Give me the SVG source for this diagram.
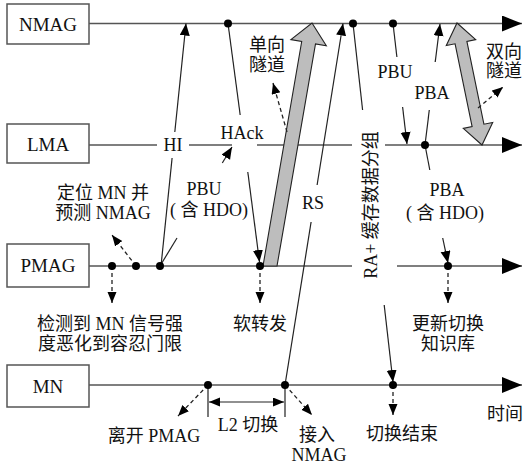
<svg xmlns="http://www.w3.org/2000/svg" width="523" height="468" viewBox="0 0 523 468">
<style>
text{font-family:"Liberation Serif","Noto Sans CJK SC",serif;font-size:18px;fill:#111;text-anchor:middle}
.bx{font-size:19px}
.box{fill:#fff;stroke:#555;stroke-width:1.5}
.tl{stroke:#555;stroke-width:1.5;fill:none}
.msg{stroke:#222;stroke-width:1.2;fill:none}
.dsh{stroke:#222;stroke-width:1.3;fill:none;stroke-dasharray:4 3}
.dot{fill:#000}
.tun{fill:#bdbdbd;stroke:#222;stroke-width:1.1;stroke-linejoin:miter}
</style>
<defs>
<marker id="big" markerUnits="userSpaceOnUse" markerWidth="22" markerHeight="18" refX="20" refY="8" orient="auto"><path d="M0,0 L20,8 L0,16 z" fill="#000"/></marker>
<marker id="ah" markerUnits="userSpaceOnUse" markerWidth="14" markerHeight="12" refX="12" refY="5" orient="auto"><path d="M0,0 L12,5 L0,10 z" fill="#000"/></marker>
<marker id="dh" markerUnits="userSpaceOnUse" markerWidth="12" markerHeight="10" refX="11" refY="4.5" orient="auto-start-reverse"><path d="M0,0 L11,4.5 L0,9 z" fill="#000"/></marker>
</defs>

<g id="node-NMAG"><rect class="box" x="7" y="4" width="82" height="40"/><text class="bx" x="48" y="31">NMAG</text></g>
<g id="node-LMA"><rect class="box" x="7" y="124" width="82" height="39"/><text class="bx" x="48" y="150.5">LMA</text></g>
<g id="node-PMAG"><rect class="box" x="7" y="244" width="82" height="43"/><text class="bx" x="48" y="272">PMAG</text></g>
<g id="node-MN"><rect class="box" x="7" y="365" width="82" height="42"/><text class="bx" x="48" y="392.5">MN</text></g>

<g id="connectors">
<!-- timelines -->
<path class="tl" d="M89,23.5 H522" marker-end="url(#big)"/>
<path class="tl" d="M89,145 H157 M189,145 H232 M257,145 H352"/>
<path class="tl" d="M385,145 H522" marker-end="url(#big)"/>
<path class="tl" d="M89,266 H352"/>
<path class="tl" d="M397,266 H522" marker-end="url(#big)"/>
<path class="tl" d="M89,385 H522" marker-end="url(#big)"/>

<!-- tunnels -->
<polygon class="tun" points="263,266 301.7,41.5 290.9,39.6 312,23 326.3,45.8 315.5,43.9 277,266"/>
<polygon class="tun" points="457,23 475.7,39.6 466.9,41.4 483.9,124.2 492.7,122.4 482,145 463.3,128.4 472.1,126.6 455.1,43.8 446.3,45.6"/>

<!-- messages -->
<path class="msg" d="M161,266 L172.1,158"/>
<path class="msg" d="M174.8,132 L186,23.5" marker-end="url(#ah)"/>
<path class="msg" d="M228,23.5 L240.2,115"/>
<path class="msg" d="M247.8,172 L259.5,262" marker-end="url(#ah)"/>
<path class="msg" d="M160,266 L177,238"/>
<path class="msg" d="M222.3,163 L232,147" marker-end="url(#ah)"/>
<path class="msg" d="M285,385 L311.1,222"/>
<path class="msg" d="M317.1,185 L343,23.5" marker-end="url(#ah)"/>
<path class="msg" d="M353,23.5 L362.6,110"/>
<path class="msg" d="M384.2,305 L393,382" marker-end="url(#ah)"/>
<path class="msg" d="M393,23.5 L396.9,57"/>
<path class="msg" d="M402.6,107 L407,144" marker-end="url(#ah)"/>
<path class="msg" d="M425,145 L429.3,110"/>
<path class="msg" d="M435.2,62 L440,24" marker-end="url(#ah)"/>
<path class="msg" d="M425,145 L429.8,170"/>
<path class="msg" d="M442.7,238 L448,263" marker-end="url(#ah)"/>

<!-- dashed pointers -->
<path class="dsh" d="M112,266 L112,303" marker-end="url(#dh)"/>
<path class="dsh" d="M136,266 L112,235" marker-end="url(#dh)"/>
<path class="dsh" d="M260,266 L260,303" marker-end="url(#dh)"/>
<path class="dsh" d="M448,266 L448,303" marker-end="url(#dh)"/>
<path class="dsh" d="M287,132 L273,83" marker-end="url(#dh)"/>
<path class="dsh" d="M478,108 L503,87" marker-end="url(#dh)"/>
<path class="dsh" d="M208,385 L178,416" marker-end="url(#dh)"/>
<path class="dsh" d="M285,385 L312,415" marker-end="url(#dh)"/>
<path class="dsh" d="M393,385 L393,415" marker-end="url(#dh)"/>

<!-- L2 handover span -->
<path class="msg" d="M208,385 V417 M285,385 V417"/>
<path class="msg" d="M209,402 H284" marker-start="url(#dh)" marker-end="url(#dh)"/>

<!-- dots -->
<circle class="dot" cx="228" cy="23.5" r="4"/>
<circle class="dot" cx="353" cy="23.5" r="4"/>
<circle class="dot" cx="393" cy="23.5" r="4"/>
<circle class="dot" cx="425" cy="145" r="4"/>
<circle class="dot" cx="112" cy="266" r="4"/>
<circle class="dot" cx="136" cy="266" r="4"/>
<circle class="dot" cx="160" cy="266" r="4"/>
<circle class="dot" cx="260" cy="266" r="4"/>
<circle class="dot" cx="448" cy="266" r="4"/>
<circle class="dot" cx="208" cy="385" r="4"/>
<circle class="dot" cx="285" cy="385" r="4"/>
<circle class="dot" cx="393" cy="385" r="4"/>
</g>

<g id="labels">
<text x="267" y="51">单向</text>
<text x="267" y="71">隧道</text>
<text x="504" y="58">双向</text>
<text x="504" y="77">隧道</text>
<text x="173" y="151">HI</text>
<text x="242" y="139">HAck</text>
<text x="395" y="78">PBU</text>
<text x="432" y="99">PBA</text>
<text x="103" y="199">定位 MN 并</text>
<text x="103" y="219">预测 NMAG</text>
<text x="204" y="195">PBU</text>
<text x="209" y="216">( 含 HDO)</text>
<text x="313" y="209">RS</text>
<text transform="translate(371,205) rotate(-90)" y="6">RA+ 缓存数据分组</text>
<text x="447" y="196">PBA</text>
<text x="445" y="219">( 含 HDO)</text>
<text x="110" y="330">检测到 MN 信号强</text>
<text x="110" y="350">度恶化到容忍门限</text>
<text x="260" y="330">软转发</text>
<text x="448" y="330">更新切换</text>
<text x="448" y="350">知识库</text>
<text x="154" y="442">离开 PMAG</text>
<text x="248" y="431">L2 切换</text>
<text x="317" y="441">接入</text>
<text x="319" y="461">NMAG</text>
<text x="402" y="440">切换结束</text>
<text x="505" y="420">时间</text>
</g>
</svg>
